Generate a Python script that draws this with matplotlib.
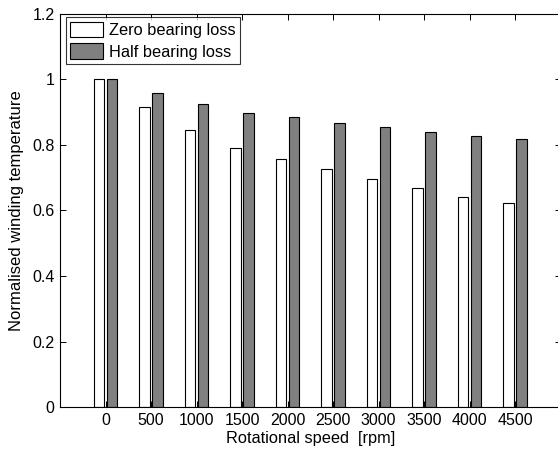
import matplotlib
matplotlib.use("Agg")
import matplotlib.pyplot as plt
import numpy as np

speeds = [0, 500, 1000, 1500, 2000, 2500, 3000, 3500, 4000, 4500]
zero_loss = [1.0, 0.917, 0.845, 0.791, 0.757, 0.727, 0.696, 0.668, 0.642, 0.624]
half_loss = [1.0, 0.957, 0.924, 0.896, 0.884, 0.868, 0.854, 0.840, 0.827, 0.819]
yticks = [0, 0.2, 0.4, 0.6, 0.8, 1.0, 1.2]
yticklabels = ["0", "0.2", "0.4", "0.6", "0.8", "1", "1.2"]

plt.rcParams['font.family'] = ['Liberation Sans', 'DejaVu Sans']

fig = plt.figure(figsize=(5.58, 4.5), dpi=100)
ax = fig.add_axes([60/558, 1-407.3/450, (560.5-60)/558, (407.3-13.7)/450])

x = np.array(speeds, dtype=float)
w = 118
off = 72
ax.bar(x - off, zero_loss, width=w, color='white', edgecolor='black', linewidth=0.8,
       label='Zero bearing loss')
ax.bar(x + off, half_loss, width=w, color='#808080', edgecolor='black', linewidth=0.8,
       label='Half bearing loss')

ax.set_xlim(-500, 5000)
ax.set_ylim(0, 1.2)
ax.set_xticks(speeds)
ax.set_xticklabels([str(s) for s in speeds])
ax.set_yticks(yticks)
ax.set_yticklabels(yticklabels)
ax.tick_params(direction='in', top=True, right=True, length=4, width=0.7,
               labelsize=11.5, pad=4)
for s in ax.spines.values():
    s.set_linewidth(0.8)

ax.set_xlabel('Rotational speed  [rpm]', fontsize=11.8, labelpad=2)
ax.set_ylabel('Normalised winding temperature', fontsize=12, labelpad=6)

leg = ax.legend(loc='upper left', bbox_to_anchor=(0.011, 0.992), fontsize=11.8,
                frameon=True, fancybox=False, edgecolor='black', borderpad=0.3,
                handlelength=2.0, handleheight=1.1, handletextpad=0.35,
                labelspacing=0.3, borderaxespad=0)
leg.get_frame().set_linewidth(0.8)

fig.savefig('out.png', dpi=100)
